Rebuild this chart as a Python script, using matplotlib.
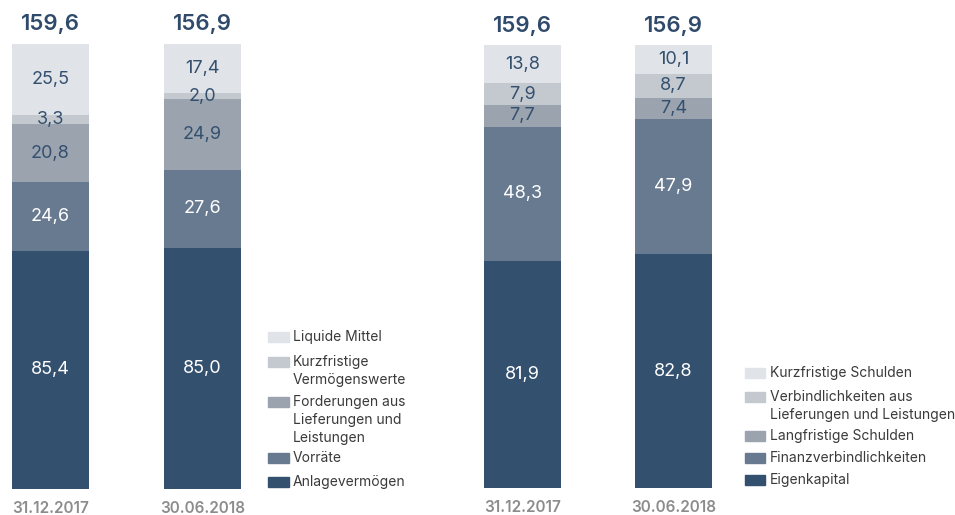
import matplotlib.pyplot as plt
from matplotlib.patches import Rectangle

plt.rcParams['font.family'] = ['Inter', 'DejaVu Sans']

dates = ['31.12.2017', '30.06.2018']

aktiva_labels = ['Anlagevermögen', 'Vorräte',
                 'Forderungen aus\nLieferungen und\nLeistungen',
                 'Kurzfristige\nVermögenswerte', 'Liquide Mittel']
aktiva_2017 = [85.4, 24.6, 20.8, 3.3, 25.5]
aktiva_2018 = [85.0, 27.6, 24.9, 2.0, 17.4]
aktiva_total = [159.6, 156.9]

passiva_labels = ['Eigenkapital', 'Finanzverbindlichkeiten', 'Langfristige Schulden',
                  'Verbindlichkeiten aus\nLieferungen und Leistungen', 'Kurzfristige Schulden']
passiva_2017 = [81.9, 48.3, 7.7, 7.9, 13.8]
passiva_2018 = [82.8, 47.9, 7.4, 8.7, 10.1]
passiva_total = [159.6, 156.9]

colors = ['#34506f', '#687a90', '#9aa3ae', '#c4c9cf', '#e0e3e8']
label_colors = ['white', 'white', '#34506f', '#34506f', '#34506f']
navy = '#2f4a6b'

W, H = 955, 515
fig = plt.figure(figsize=(W / 100, H / 100), dpi=100)


def fmt(v):
    return f"{v:.1f}".replace('.', ',')


def stacked(ax, series, totals):
    for i, (vals, tot) in enumerate(zip(series, totals)):
        bottom = 0.0
        for j, v in enumerate(vals):
            h = v / tot * 100
            ax.bar(i, h, bottom=bottom, width=0.505, color=colors[j], linewidth=0)
            ax.text(i, bottom + h / 2, fmt(v), ha='center', va='center',
                    fontsize=13, color=label_colors[j])
            bottom += h
        ax.text(i, 104.4, fmt(tot), ha='center', va='center', fontsize=16,
                fontweight='semibold', color=navy, clip_on=False)
        ax.text(i, -4.4, dates[i], ha='center', va='center', fontsize=11,
                fontweight='semibold', color='#8c8c8c', clip_on=False)
    ax.set_xlim(-0.3, 1.3)
    ax.set_ylim(0, 100)
    ax.axis('off')


def legend(labels, x_patch, x_text, ys, pw):
    step = 18
    for lab, col, y in zip(labels, colors, ys):
        fig.add_artist(Rectangle((x_patch / W, 1 - (y + 5) / H), pw / W, 10 / H,
                                 color=col, transform=fig.transFigure))
        for k, line in enumerate(lab.split('\n')):
            fig.text(x_text / W, 1 - (y + k * step) / H, line, ha='left',
                     va='center', fontsize=10, color='#3a3a3a')


ax1 = fig.add_axes([4.9 / W, 26 / H, 243.2 / W, 445 / H])
stacked(ax1, [aktiva_2017, aktiva_2018], aktiva_total)

ax2 = fig.add_axes([477.2 / W, 27 / H, 241.6 / W, 443 / H])
stacked(ax2, [passiva_2017, passiva_2018], passiva_total)

legend(aktiva_labels, 268, 293, [482, 458, 402, 362, 337], 21)
legend(passiva_labels, 745, 770, [480, 458, 436, 397, 373], 20)

fig.savefig('out.png', dpi=100)
